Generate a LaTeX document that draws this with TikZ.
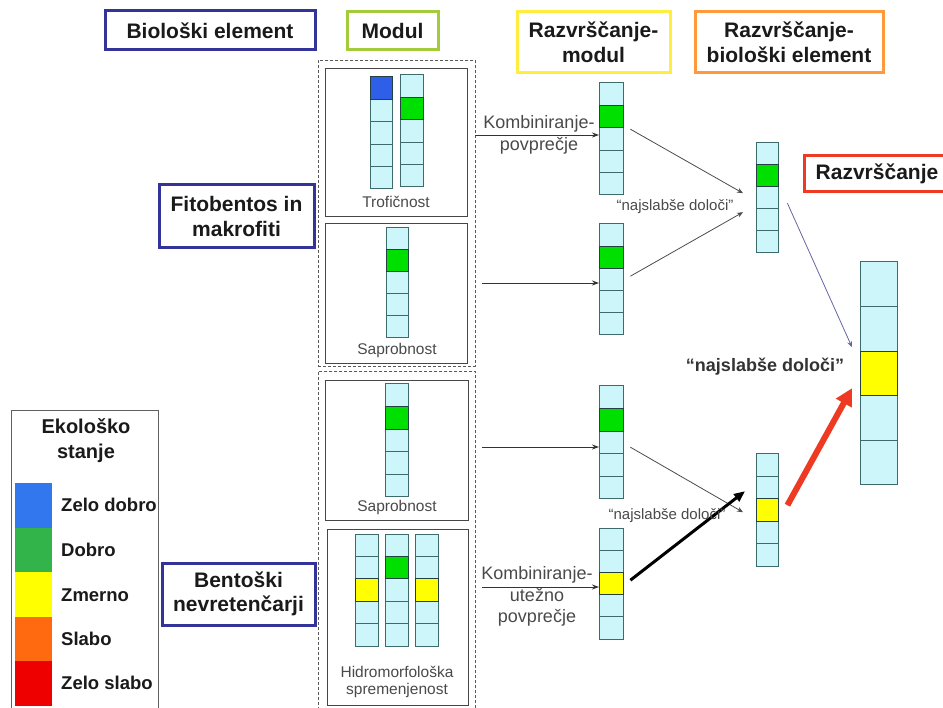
\documentclass[tikz,border=0pt]{standalone}
\usepackage{fontspec}
\setmainfont{Liberation Sans}
\usetikzlibrary{arrows.meta,calc}
\definecolor{navy}{HTML}{333399}
\definecolor{modgreen}{HTML}{A4CC3A}
\definecolor{ryellow}{HTML}{FFEE40}
\definecolor{rorange}{HTML}{FF9A3C}
\definecolor{rred}{HTML}{EE3A22}
\definecolor{cellfill}{HTML}{CCF6FA}
\definecolor{cellline}{HTML}{3D6B6B}
\definecolor{cgreen}{HTML}{00E000}
\definecolor{cblue}{HTML}{2F5FE8}
\definecolor{cyellow}{HTML}{FFFF00}
\definecolor{lblue}{HTML}{3377EE}
\definecolor{lgreen}{HTML}{33B44A}
\definecolor{lorange}{HTML}{FF6A10}
\definecolor{lred}{HTML}{EE0000}
\definecolor{txt}{HTML}{1A1A1A}
\definecolor{gtxt}{HTML}{4A4A4A}
\newcommand\mkbar[7]{%
  \node[inner sep=0, minimum width=#4pt, minimum height={5*#5pt}, anchor=north west] (#1) at (#2,#3) {};
  \foreach \i in {1,...,5}{\path[draw=cellline, fill=cellfill, line width=1pt] (#2,{#3+(\i-1)*#5}) rectangle ++(#4,#5);}
  \path[draw=cellline!60!black, fill=#7, line width=1pt] (#2,{#3+(#6-1)*#5}) rectangle ++(#4,#5);
}
\begin{document}
\begin{tikzpicture}[x=1pt,y=-1pt,
  hdr/.style={draw, line width=3pt, fill=white, font=\fontsize{21}{24.5}\selectfont\bfseries, text=txt, align=center, inner sep=0},
  legtxt/.style={font=\fontsize{18.5}{21}\selectfont\bfseries, text=txt, anchor=west, inner sep=0},
  swatch/.style={minimum width=37pt, minimum height=44.5pt, inner sep=0, draw=none},
  dashbox/.style={draw=gray!70!black, densely dashed, line width=0.8pt, inner sep=0, anchor=north west},
  modbox/.style={draw=gray!55!black, line width=1.3pt, inner sep=0, anchor=north west},
  modlbl/.style={font=\fontsize{15.5}{18}\selectfont, text=gtxt, align=center, inner sep=0},
  arrlbl/.style={font=\fontsize{18}{21.5}\selectfont, text=gtxt, align=center, inner sep=0},
  small/.style={font=\fontsize{15}{18}\selectfont, text=gtxt, inner sep=0},
  arr/.style={-{Stealth[length=7pt,width=5pt]}, line width=0.9pt, draw=black!80},
  thinarr/.style={-{Stealth[length=6pt,width=5pt]}, line width=0.8pt, draw=black!70}
]
\useasboundingbox (0,0) rectangle (943,708);
\fill[white] (0,0) rectangle (943,708);

% headers
\node[hdr, draw=navy, minimum width=210pt, minimum height=39pt] (bioel) at (210,30.5) {Biološki element};
\node[hdr, draw=modgreen, minimum width=91pt, minimum height=38pt] (modul) at (392.5,31) {Modul};
\node[hdr, draw=ryellow, minimum width=153pt, minimum height=61pt] (rmod) at (593.5,42.5) {Razvrščanje-\\modul};
\node[hdr, draw=rorange, minimum width=188pt, minimum height=61pt] (rbio) at (789,42.5) {Razvrščanje-\\biološki element};
\node[hdr, draw=rred, minimum width=150pt, minimum height=36pt] (rank) at (879,174) {\hspace*{-4pt}Razvrščanje};
\node[hdr, draw=navy, minimum width=155pt, minimum height=63pt] (fito) at (236.5,216.5) {Fitobentos in\\makrofiti};
\node[hdr, draw=navy, minimum width=153pt, minimum height=62pt] (bento) at (238.5,594) {Bentoški\\nevretenčarji};

% legend
\node[draw=gray!75!black, line width=1.2pt, minimum width=147pt, minimum height=310pt, anchor=north west, inner sep=0] (legend) at (11,410) {};
\node[font=\fontsize{20}{25}\selectfont\bfseries, text=txt, align=center, inner sep=0] (legtitle) at (86,441) {Ekološko\\stanje};
\node[swatch, fill=lblue] (sw1) at (33.5,505.5) {};
\node[swatch, fill=lgreen] (sw2) at (33.5,550) {};
\node[swatch, fill=cyellow] (sw3) at (33.5,594.5) {};
\node[swatch, fill=lorange] (sw4) at (33.5,639) {};
\node[swatch, fill=lred] (sw5) at (33.5,683.5) {};
\node[legtxt] (lb1) at (61,505) {Zelo dobro};
\node[legtxt] (lb2) at (61,550) {Dobro};
\node[legtxt] (lb3) at (61,595) {Zmerno};
\node[legtxt] (lb4) at (61,639) {Slabo};
\node[legtxt] (lb5) at (61,683) {Zelo slabo};

% module containers
\node[dashbox, minimum width=157pt, minimum height=306pt] (dash1) at (318,60) {};
\node[dashbox, minimum width=157pt, minimum height=345pt] (dash2) at (318,371) {};
\node[modbox, minimum width=142pt, minimum height=148pt] (trof) at (325,68) {};
\node[modbox, minimum width=142pt, minimum height=140pt] (sap1) at (325,223) {};
\node[modbox, minimum width=143pt, minimum height=140pt] (sap2) at (325,380) {};
\node[modbox, minimum width=141pt, minimum height=176pt] (hidro) at (327,529) {};
\node[modlbl] (ltrof) at (396,202) {Trofičnost};
\node[modlbl] (lsap1) at (397,350) {Saprobnost};
\node[modlbl] (lsap2) at (397,507) {Saprobnost};
\node[modlbl, font=\fontsize{15.5}{17.5}\selectfont] (lhid) at (397,682) {Hidromorfološka\\spremenjenost};

% bars
\mkbar{t1}{370}{77}{22}{22.4}{1}{cblue}
\mkbar{t2}{400}{75}{23}{22.4}{2}{cgreen}
\mkbar{s1}{386}{228}{22}{22}{2}{cgreen}
\mkbar{s2}{385}{384}{23}{22.6}{2}{cgreen}
\mkbar{h1}{355}{534}{23}{22.4}{3}{cyellow}
\mkbar{h2}{385}{534}{23}{22.4}{2}{cgreen}
\mkbar{h3}{415}{534}{23}{22.4}{3}{cyellow}
\mkbar{mA}{599}{83}{24}{22.4}{2}{cgreen}
\mkbar{mB}{599}{224}{24}{22.2}{2}{cgreen}
\mkbar{mC}{599}{386}{24}{22.6}{2}{cgreen}
\mkbar{mD}{599}{528}{24}{22.2}{3}{cyellow}
\mkbar{eE}{756}{143}{22}{22}{2}{cgreen}
\mkbar{eF}{756}{454}{22}{22.4}{3}{cyellow}
\mkbar{fin}{860}{262}{37}{44.6}{3}{cyellow}

% horizontal arrows
\coordinate (a1s) at (475,135);
\coordinate (a2s) at (482,283);
\coordinate (a3s) at (482,447);
\coordinate (a4s) at (482,587);
\draw[arr] (a1s) -- (a1s -| mA.west);
\draw[arr] (a2s) -- (a2s -| mB.west);
\draw[arr] (a3s) -- (a3s -| mC.west);
\draw[arr] (a4s) -- (a4s -| mD.west);
\node[arrlbl] (k1) at (539,135) {Kombiniranje-\\povprečje};
\node[arrlbl] (k2) at (537,596.5) {Kombiniranje-\\utežno\\povprečje};

% "najslabše določi" links
\draw[thinarr] ($(mA.east)+(7,-10)$) -- ($(eE.west)+(-13,-5)$);
\draw[thinarr] ($(mB.east)+(7,-3.5)$) -- ($(eE.west)+(-13,14)$);
\draw[thinarr] ($(mC.east)+(7,4.5)$) -- ($(eF.west)+(-13,2)$);
\draw[-{Triangle[length=11pt,width=9pt]}, line width=3pt, draw=black] ($(mD.east)+(7,-3.5)$) -- ($(eF.west)+(-11,-19)$);
\node[small] (n1) at (675,207) {“najslabše določi”};
\node[small] (n2) at (667,516) {“najslabše določi”};

\draw[thinarr, draw=black!60!blue!60] ($(eE.east)+(9,5)$) -- ($(fin.west)+(-8,-26.5)$);
\draw[-{Triangle[length=17pt,width=17pt]}, line width=6pt, draw=rred] ($(eF.east)+(9,-5)$) -- ($(fin.west)+(-8,14.5)$);
\node[font=\fontsize{18}{20}\selectfont\bfseries, text=black!80, inner sep=0] (n3) at (765,367) {“najslabše določi”};
\end{tikzpicture}
\end{document}
